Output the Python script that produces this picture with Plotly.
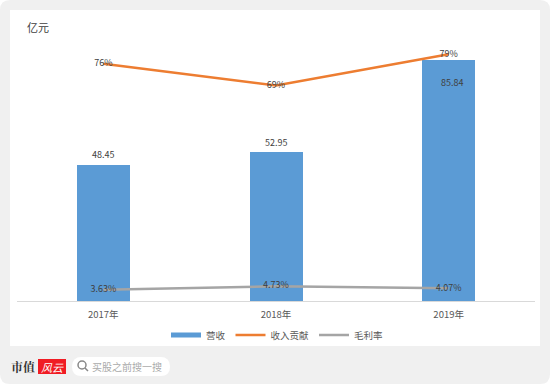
import plotly.graph_objects as go

years = ["2017年", "2018年", "2019年"]
revenue = [48.45, 52.95, 85.84]
revenue_labels = ["48.45", "52.95", "85.84"]
share = [76, 69, 79]
share_labels = ["76%", "69%", "79%"]
margin = [3.63, 4.73, 4.07]
margin_labels = ["3.63%", "4.73%", "4.07%"]

W, H = 550, 384
BLUE, ORANGE, GREY = "#5B9BD5", "#ED7D31", "#A5A5A5"
TXT = "#595959"
FONT = "Noto Sans CJK SC, Noto Sans, sans-serif"
px = lambda x: x / W
py = lambda y: 1 - y / H


def rrect(x0, y0, x1, y1, r):
    a, b, c, d = px(x0), py(y0), px(x1), py(y1)
    rx, ry = r / W, r / H
    return (f"M{a+rx},{b} L{c-rx},{b} Q{c},{b} {c},{b-ry} L{c},{d+ry} Q{c},{d} {c-rx},{d} "
            f"L{a+rx},{d} Q{a},{d} {a},{d+ry} L{a},{b-ry} Q{a},{b} {a+rx},{b} Z")


def note(x, y, text, size, color, **font):
    return dict(x=px(x), y=py(y), xref="paper", yref="paper", text=text, showarrow=False,
                xanchor="center", yanchor="middle", font=dict(size=size, color=color, **font))


fig = go.Figure()
fig.add_bar(x=years, y=revenue, width=0.307, marker=dict(color=BLUE, line=dict(width=0)),
            name="营收", legendgroup="rev", showlegend=False, yaxis="y")
fig.add_scatter(x=[years[0]], y=[None], mode="lines", name="营收", legendgroup="rev",
                line=dict(color=BLUE, width=5), yaxis="y")
fig.add_scatter(x=years, y=share, mode="lines+text", name="收入贡献", text=share_labels,
                textposition="middle center", textfont=dict(size=9, color="#404040"),
                line=dict(color=ORANGE, width=2.5), yaxis="y2")
fig.add_scatter(x=years, y=margin, mode="lines+text", name="毛利率", text=margin_labels,
                textposition="middle center", textfont=dict(size=9, color="#404040"),
                line=dict(color=GREY, width=2.5), yaxis="y2")

ann = []
for i, (y, v) in enumerate(zip(years, revenue_labels)):
    inside = i == 2
    ann.append(dict(x=y, y=revenue[i], xref="x", yref="y", text=v, showarrow=False,
                    xshift=3 if inside else 0, yshift=-23 if inside else 10,
                    font=dict(size=9, color="#404040")))
ann.append(note(37.5, 27, "亿元", 11, "#404040"))
ann.append(note(23, 366, "<b>市值</b>", 12, "#333333", family="Noto Serif CJK SC, Noto Sans CJK SC"))
ann.append(note(52, 366.5, "<i>风云</i>", 11, "#FFFFFF"))
ann.append(note(126.5, 366, "买股之前搜一搜", 10, "#AAAAAA"))

shapes = [
    dict(type="path", path=rrect(0, 0, 550, 384, 10), xref="paper", yref="paper",
         fillcolor="#F0F0F0", line=dict(width=0), layer="below"),
    dict(type="rect", x0=px(10), x1=px(540), y0=py(10), y1=py(346), xref="paper", yref="paper",
         fillcolor="#FFFFFF", line=dict(width=0), layer="below"),
    dict(type="rect", x0=px(38), x1=px(66), y0=py(359), y1=py(374), xref="paper", yref="paper",
         fillcolor="#F01C24", line=dict(width=0), layer="below"),
    dict(type="path", path=rrect(72, 357, 170, 376, 9.5), xref="paper", yref="paper",
         fillcolor="#FFFFFF", line=dict(width=0), layer="below"),
    dict(type="circle", x0=px(78), x1=px(86), y0=py(361), y1=py(369), xref="paper", yref="paper",
         line=dict(color="#888888", width=1.5), layer="below"),
    dict(type="line", x0=px(85), x1=px(88), y0=py(368), y1=py(371), xref="paper", yref="paper",
         line=dict(color="#888888", width=1.5), layer="below"),
]

fig.update_layout(
    width=W, height=H, margin=dict(l=0, r=0, t=0, b=0, pad=0), autosize=False,
    paper_bgcolor="#FFFFFF", plot_bgcolor="rgba(0,0,0,0)",
    font=dict(family=FONT, size=10, color=TXT), bargap=0,
    xaxis=dict(domain=[px(17), px(535)], type="category", showgrid=False, showline=True,
               linecolor="#D9D9D9", linewidth=1, ticks="outside", ticklen=5,
               tickcolor="rgba(0,0,0,0)", tickfont=dict(size=9.5, color=TXT), fixedrange=True),
    yaxis=dict(domain=[py(301), py(20)], range=[0, 100], visible=False, fixedrange=True),
    yaxis2=dict(domain=[py(301), py(20)], range=[0, 90], overlaying="y", visible=False, fixedrange=True),
    legend=dict(orientation="h", x=px(277), xanchor="center", y=py(335), yanchor="middle",
                font=dict(size=9.5, color=TXT), bgcolor="rgba(0,0,0,0)", itemwidth=30),
    annotations=ann, shapes=shapes,
)
fig.write_html("out.html", config=dict(displayModeBar=False),
               post_script="document.body.style.margin='0';document.body.style.overflow='hidden';")
